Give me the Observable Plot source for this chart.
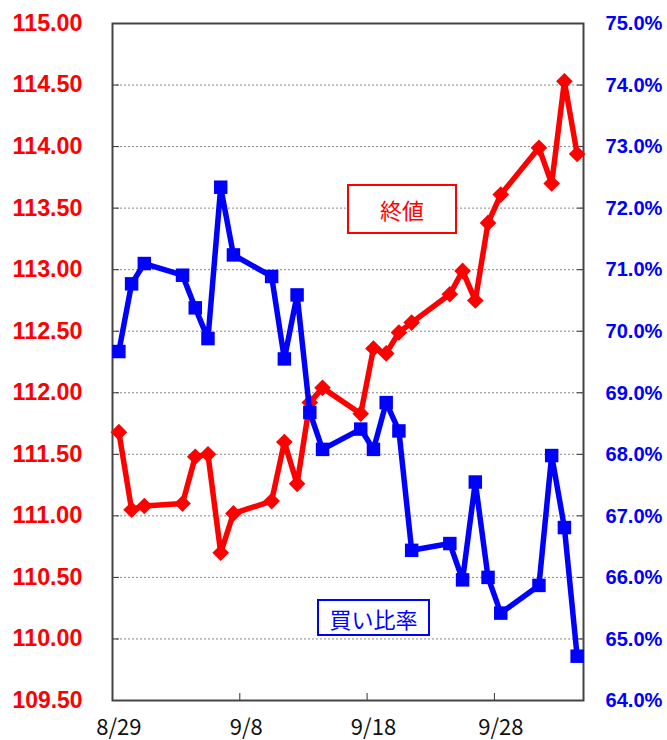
<!DOCTYPE html>
<html>
<head>
<meta charset="utf-8">
<script src="https://cdn.jsdelivr.net/npm/d3@7"></script>
<script src="https://cdn.jsdelivr.net/npm/@observablehq/plot@0.6"></script>
<style>
  html, body { margin: 0; padding: 0; background: #fff; }
  #wrap { position: relative; width: 667px; height: 740px; }
  .box { position: absolute; box-sizing: border-box; background: #fff; display: flex; align-items: center; justify-content: center;
         font-family: "Noto Sans CJK JP", sans-serif; font-size: 22px; }
</style>
</head>
<body>
<div id="wrap"></div>
<script>
// ---- data ----
const dates = ["2018-08-29","2018-08-30","2018-08-31","2018-09-03","2018-09-04","2018-09-05","2018-09-06","2018-09-07",
  "2018-09-10","2018-09-11","2018-09-12","2018-09-13","2018-09-14","2018-09-17","2018-09-18","2018-09-19","2018-09-20",
  "2018-09-21","2018-09-24","2018-09-25","2018-09-26","2018-09-27","2018-09-28","2018-10-01","2018-10-02","2018-10-03","2018-10-04"];
const closeValues = [111.68,111.05,111.08,111.10,111.48,111.50,110.70,111.02,111.12,111.60,111.26,111.92,112.04,111.83,
  112.36,112.32,112.49,112.57,112.80,112.99,112.75,113.38,113.61,113.99,113.70,114.53,113.94];
const buyRatio = [69.67,70.77,71.10,70.91,70.38,69.88,72.34,71.24,70.89,69.55,70.59,68.68,68.08,68.41,68.08,68.84,68.38,
  66.44,66.55,65.96,67.55,66.00,65.42,65.87,67.98,66.81,64.72];
const xTickLabels = ["2018-08-29","2018-09-08","2018-09-18","2018-09-28"];
const leftTicks = [109.5,110,110.5,111,111.5,112,112.5,113,113.5,114,114.5,115];
const rightDomain = [64, 75];
const leftDomain = [109.5, 115];
const xDomain = ["2018-08-29","2018-10-05"];

// ---- build ----
const rows = dates.map((d, i) => ({date: new Date(d + "T12:00:00Z"), close: closeValues[i], ratio: buyRatio[i]}));
const toLeft = p => leftDomain[0] + (p - rightDomain[0]) * (leftDomain[1] - leftDomain[0]) / (rightDomain[1] - rightDomain[0]);
const toRight = v => rightDomain[0] + (v - leftDomain[0]) * (rightDomain[1] - rightDomain[0]) / (leftDomain[1] - leftDomain[0]);
const xTicks = xTickLabels.map(d => new Date(d + "T00:00:00Z"));
const fmtDate = d => `${d.getUTCMonth() + 1}/${d.getUTCDate()}`;

const chart = Plot.plot({
  width: 667,
  height: 740,
  marginLeft: 112,
  marginRight: 84,
  marginTop: 23,
  marginBottom: 40,
  style: {background: "#fff", overflow: "visible"},
  x: {type: "utc", domain: xDomain.map(d => new Date(d + "T00:00:00Z"))},
  y: {domain: leftDomain},
  marks: [
    Plot.gridY(leftTicks.slice(1, -1), {stroke: "#888", strokeOpacity: 1, strokeDasharray: "2,2"}),
    // inner tick marks
    Plot.axisY(leftTicks, {anchor: "left", tickSize: -7, fill: "none", stroke: "#333", label: null}),
    Plot.axisY(leftTicks, {anchor: "right", tickSize: -7, fill: "none", stroke: "#333", label: null}),
    Plot.axisX(xTicks, {anchor: "bottom", tickSize: -7, fill: "none", stroke: "#333", label: null}),
    // labels
    Plot.axisY(leftTicks, {anchor: "left", tickSize: 0, tickPadding: 30, label: null,
      tickFormat: d => d.toFixed(2), fill: "#ff0000", fontSize: 23, fontWeight: "bold",
      fontFamily: "Liberation Sans, Arial, sans-serif"}),
    Plot.axisY(leftTicks, {anchor: "right", tickSize: 0, tickPadding: 22, label: null,
      tickFormat: d => toRight(d).toFixed(1) + "%", fill: "#0000ff", fontSize: 21, fontWeight: "bold",
      fontFamily: "Liberation Sans, Arial, sans-serif"}),
    Plot.axisX(xTicks, {anchor: "bottom", tickSize: 0, tickPadding: 19, dx: 6.4, label: null,
      tickFormat: fmtDate, fill: "#111", fontSize: 22,
      fontFamily: "Noto Sans CJK JP, sans-serif"}),
    Plot.frame({stroke: "#444", strokeWidth: 2}),
    // series
    Plot.line(rows, {x: "date", y: "close", stroke: "#ff0000", strokeWidth: 5.5, strokeLinejoin: "miter"}),
    Plot.dot(rows, {x: "date", y: "close", symbol: "diamond2", r: 7.5, fill: "#ff0000", stroke: "none"}),
    Plot.line(rows, {x: "date", y: d => toLeft(d.ratio), stroke: "#0000ff", strokeWidth: 5.5, strokeLinejoin: "miter"}),
    Plot.dot(rows, {x: "date", y: d => toLeft(d.ratio), symbol: "square", r: 7.6, fill: "#0000ff", stroke: "none"})
  ]
});

// fit tick label widths to the reference's condensed font
d3.select(chart).selectAll('g[aria-label="y-axis tick label"]').each(function() {
  const g = d3.select(this);
  const anchor = g.attr("text-anchor");
  const w = anchor === "start" ? 57 : 70;
  g.selectAll("text").attr("textLength", w).attr("lengthAdjust", "spacingAndGlyphs");
});

const wrap = document.getElementById("wrap");
wrap.appendChild(chart);

const b1 = document.createElement("div");
b1.className = "box";
b1.textContent = "終値";
Object.assign(b1.style, {left: "347px", top: "184px", width: "110px", height: "50px", border: "2px solid #ff0000", color: "#ff0000"});
wrap.appendChild(b1);

const b2 = document.createElement("div");
b2.className = "box";
b2.textContent = "買い比率";
Object.assign(b2.style, {left: "317px", top: "599px", width: "113px", height: "37px", border: "2px solid #0000ff", color: "#0000ff"});
wrap.appendChild(b2);
</script>
</body>
</html>
